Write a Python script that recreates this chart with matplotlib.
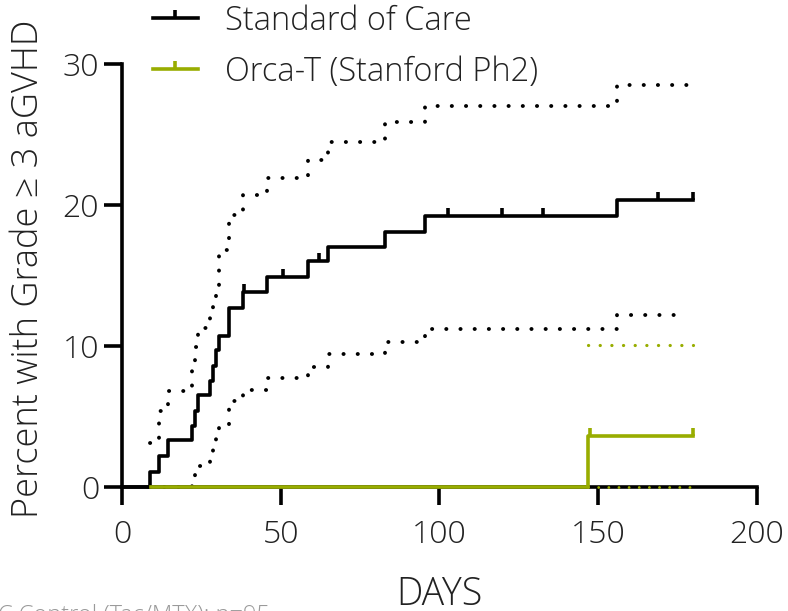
import numpy as np
import matplotlib
matplotlib.use("Agg")
import matplotlib.pyplot as plt
from matplotlib.lines import Line2D

plt.rcParams['font.family'] = ['Open Sans', 'DejaVu Sans']

GREEN = '#98ad00'
TEXT = '#222222'

# Standard of Care: cumulative incidence (step, post)
soc_days = [0, 8.8, 11.7, 14.6, 21.9, 23.0, 23.8, 27.7, 28.8, 29.6, 30.7, 33.8,
            38.0, 45.6, 58.7, 64.8, 82.8, 95.4, 155.8, 180]
soc_pct = [0, 1.1, 2.2, 3.3, 4.3, 5.4, 6.5, 7.5, 8.6, 9.7, 10.7, 12.7,
           13.8, 14.9, 16.0, 17.0, 18.1, 19.2, 20.35, 20.35]
soc_censor = [38.5, 50.8, 61.9, 102.8, 119.8, 132.7, 168.7, 180]

# 95% CI bounds for Standard of Care
soc_ci_days = [8.8, 11.7, 14.6, 21.9, 23.0, 23.8, 27.7, 28.8, 29.6, 30.7, 33.8,
               38.0, 45.6, 58.7, 64.8, 82.8, 95.4, 155.8]
soc_upper = [3.1, 5.4, 6.8, 8.8, 9.9, 11.3, 12.3, 13.1, 14.2, 16.8, 19.3,
             20.7, 21.9, 23.2, 24.5, 25.9, 27.0, 28.5]
soc_lower = [0, 0, 0, 0.4, 0.9, 1.5, 2.2, 2.8, 3.45, 4.3, 6.1,
             6.9, 7.7, 8.5, 9.4, 10.3, 11.2, 12.2]
soc_upper_end = 178
soc_lower_end = 176

# Orca-T (Stanford Ph2)
orca_days = [9.2, 146.9, 180]
orca_pct = [0, 3.6, 3.6]
orca_censor = [147.5, 180]
orca_ci_days = [146.9, 180]
orca_upper = [10.1, 10.1]
orca_lower = [0, 0]


def step_at(days, vals, t):
    idx = np.searchsorted(days, t, side='right') - 1
    return np.asarray(vals)[idx]


def extend(days, vals, end):
    return list(days) + [end], list(vals) + [vals[-1]]


fig = plt.figure(figsize=(7.88, 6.11), dpi=100)
ax = fig.add_axes([0.1548, 0.2029, 0.8058, 0.6923])

lw = 2.6
dot_style = dict(linestyle=(0, (0.05, 3.6)), dash_capstyle='round', clip_on=False)

# confidence bands
x, y = extend(soc_ci_days, soc_upper, soc_upper_end)
ax.step(x, y, where='post', color='k', lw=2.8, zorder=2, **dot_style)
x, y = extend(soc_ci_days, soc_lower, soc_lower_end)
ax.step(x, y, where='post', color='k', lw=2.8, zorder=2, **dot_style)
ax.step(orca_ci_days, orca_upper, where='post', color=GREEN, lw=2.3,
        zorder=4, **dot_style)
ax.step(orca_ci_days, orca_lower, where='post', color=GREEN, lw=2.0,
        zorder=4, **dot_style)

# incidence curves with censor marks
ax.step(soc_days, soc_pct, where='post', color='k', lw=lw, zorder=3, clip_on=False)
ax.plot(soc_censor, step_at(soc_days, soc_pct, soc_censor), ls='none', marker=2,
        ms=6, mew=lw, color='k', zorder=3, clip_on=False)
ax.step(orca_days, orca_pct, where='post', color=GREEN, lw=lw, zorder=3.5,
        clip_on=False)
ax.plot(orca_censor, step_at(orca_days, orca_pct, orca_censor), ls='none', marker=2,
        ms=6, mew=lw, color=GREEN, zorder=3.5, clip_on=False)

ax.set_xlim(0, 200)
ax.set_ylim(0, 30)
ax.set_xticks([0, 50, 100, 150, 200])
ax.set_yticks([0, 10, 20, 30])
for side in ('top', 'right'):
    ax.spines[side].set_visible(False)
for side in ('left', 'bottom'):
    ax.spines[side].set_linewidth(lw)
ax.tick_params(direction='out', length=13, width=lw, labelsize=23, colors='k',
               labelcolor=TEXT)
ax.tick_params(axis='x', pad=10)
ax.tick_params(axis='y', pad=3.5)
for lab in ax.get_xticklabels() + ax.get_yticklabels():
    lab.set_fontweight('light')

ax.set_xlabel('DAYS', fontsize=27, color=TEXT, fontweight='light')
ax.xaxis.set_label_coords(0.5, -0.208)
ax.set_ylabel('Percent with Grade ≥ 3 aGVHD', fontsize=26, color=TEXT,
              fontweight='light')
ax.yaxis.set_label_coords(-0.118, 0.516)

handles = [
    Line2D([0], [0], color='k', lw=lw, marker=2, ms=6, mew=lw),
    Line2D([0], [0], color=GREEN, lw=lw, marker=2, ms=6, mew=lw),
]
leg = fig.legend(handles, ['Standard of Care', 'Orca-T (Stanford Ph2)'],
                 loc='upper left', bbox_to_anchor=(0.194, 0.993), frameon=False,
                 fontsize=23.5, handlelength=1.38, handletextpad=0.83,
                 labelspacing=0.53, numpoints=1, borderpad=0, borderaxespad=0,
                 labelcolor=TEXT)
for t in leg.get_texts():
    t.set_fontweight('light')

fig.text(-0.003, -0.018, 'C Control (Tac/MTX); n=95', fontsize=17, color='#9a9a9a',
         ha='left', va='baseline', fontweight='light')

fig.savefig('out.png', dpi=100)
